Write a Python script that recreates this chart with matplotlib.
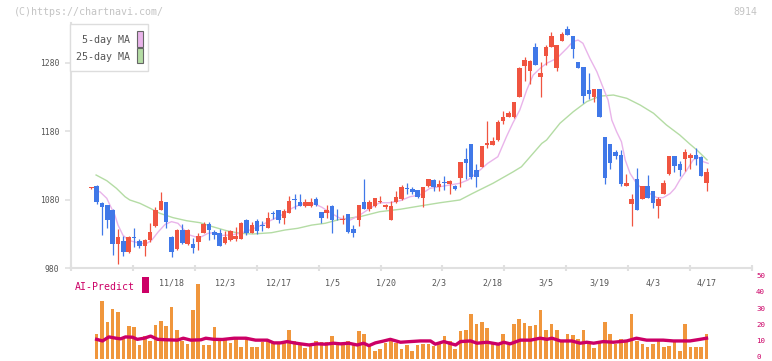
import numpy as np
import matplotlib
matplotlib.use("Agg")
import matplotlib.pyplot as plt
from matplotlib.patches import Rectangle
from matplotlib.transforms import ScaledTranslation

plt.rcParams['font.family'] = ['DejaVu Sans Mono']

# ---------------- data ----------------
date_labels = ["11/18", "12/3", "12/17", "1/5", "1/20", "2/3", "2/18", "3/5", "3/19", "4/3", "4/17"]
date_label_idx = [15, 25, 35, 45, 55, 65, 75, 85, 95, 105, 115]
price_ticks = [980, 1080, 1180, 1280]
vol_ticks = [0, 10, 20, 30, 40, 50]

opens = [1097, 1100, 1075, 1072, 1065, 1015, 1020, 1004, 1026, 1020,
         1012, 1021, 1042, 1065, 1076, 1025, 1008, 1036, 1015, 1015,
         1019, 1032, 1045, 1033, 1031, 1017, 1021, 1022, 1023, 1050,
         1032, 1049, 1043, 1039, 1060, 1065, 1054, 1061, 1081, 1076,
         1071, 1071, 1081, 1062, 1060, 1071, 1058, 1050, 1059, 1038,
         1050, 1077, 1066, 1071, 1077, 1069, 1050, 1076, 1081, 1097,
         1095, 1094, 1083, 1100, 1109, 1099, 1106, 1103, 1100, 1111,
         1139, 1161, 1123, 1128, 1160, 1160, 1167, 1195, 1200, 1200,
         1230, 1275, 1268, 1303, 1259, 1290, 1303, 1272, 1312, 1329,
         1318, 1281, 1274, 1240, 1230, 1241, 1171, 1161, 1150, 1145,
         1100, 1074, 1110, 1081, 1100, 1093, 1071, 1088, 1118, 1144,
         1132, 1140, 1141, 1145, 1142, 1105]
highs = [1098, 1101, 1076, 1073, 1066, 1038, 1027, 1027, 1039, 1022,
         1022, 1046, 1070, 1091, 1077, 1027, 1037, 1044, 1037, 1024,
         1031, 1048, 1048, 1036, 1037, 1034, 1036, 1040, 1047, 1052,
         1047, 1052, 1049, 1062, 1064, 1065, 1066, 1086, 1088, 1088,
         1081, 1083, 1084, 1062, 1072, 1072, 1067, 1057, 1059, 1043,
         1072, 1110, 1080, 1083, 1086, 1074, 1078, 1092, 1101, 1105,
         1099, 1094, 1098, 1110, 1110, 1108, 1115, 1109, 1102, 1135,
         1155, 1161, 1132, 1159, 1195, 1172, 1196, 1209, 1209, 1222,
         1273, 1288, 1284, 1309, 1281, 1306, 1325, 1306, 1324, 1333,
         1318, 1281, 1274, 1265, 1242, 1241, 1171, 1161, 1153, 1152,
         1117, 1089, 1126, 1100, 1116, 1093, 1084, 1109, 1144, 1144,
         1137, 1154, 1148, 1156, 1144, 1126]
lows = [1096, 1074, 1028, 1039, 999, 986, 998, 1003, 1011, 1010,
        998, 1019, 1040, 1065, 1039, 996, 1007, 1015, 1014, 1003,
        1007, 1031, 1021, 1022, 1012, 1015, 1020, 1020, 1022, 1029,
        1031, 1030, 1034, 1039, 1052, 1046, 1044, 1060, 1066, 1071,
        1070, 1070, 1071, 1046, 1054, 1032, 1050, 1045, 1032, 1026,
        1042, 1066, 1064, 1070, 1075, 1067, 1050, 1075, 1080, 1088,
        1088, 1082, 1070, 1099, 1093, 1093, 1094, 1088, 1094, 1099,
        1110, 1110, 1099, 1127, 1155, 1160, 1166, 1190, 1200, 1199,
        1230, 1253, 1248, 1276, 1230, 1276, 1303, 1268, 1312, 1320,
        1287, 1272, 1221, 1227, 1223, 1201, 1103, 1125, 1140, 1100,
        1100, 1042, 1065, 1081, 1083, 1068, 1053, 1088, 1116, 1121,
        1115, 1122, 1125, 1130, 1115, 1093]
closes = [1097, 1076, 1070, 1050, 1015, 1025, 1004, 1026, 1024, 1012,
          1021, 1033, 1065, 1078, 1048, 1004, 1036, 1017, 1036, 1010,
          1027, 1045, 1036, 1028, 1013, 1025, 1034, 1027, 1046, 1031,
          1043, 1034, 1041, 1054, 1059, 1051, 1063, 1078, 1080, 1071,
          1076, 1076, 1072, 1054, 1065, 1050, 1057, 1052, 1033, 1032,
          1072, 1066, 1077, 1083, 1078, 1072, 1071, 1084, 1099, 1096,
          1091, 1084, 1098, 1110, 1099, 1103, 1104, 1107, 1095, 1135,
          1134, 1113, 1113, 1158, 1162, 1166, 1193, 1200, 1206, 1222,
          1272, 1284, 1282, 1276, 1264, 1302, 1319, 1305, 1321, 1320,
          1299, 1272, 1231, 1234, 1241, 1201, 1111, 1134, 1144, 1103,
          1105, 1081, 1065, 1100, 1083, 1075, 1081, 1105, 1144, 1129,
          1123, 1149, 1145, 1140, 1115, 1121]
volume = [np.nan, 15.4, 36, 23, 31, 28.8, 12.7, 20, 19.4, 8.5,
          14.2, 11, 21, 23.5, 20.4, 32.3, 18, 11, 9.2, 30.4,
          46, 8.5, 8.5, 19.4, 11, 11.7, 10, 12.7, 7.5, 13.7,
          7.5, 7.5, 10.6, 11.7, 9.6, 9.6, 9.6, 18, 11, 9,
          6.5, 8.1, 11, 10.2, 10.2, 14.2, 10.2, 9, 11, 9.6,
          17.3, 15.4, 8.1, 4.8, 6, 10, 12, 10, 6, 8.5,
          5, 8.5, 9, 9, 8, 10, 14, 11, 6, 17,
          17.5, 27.5, 21.5, 23, 19, 9.5, 9, 15, 8.5, 21.5,
          24.5, 22, 20, 21, 30, 18, 21.5, 18, 11, 15.5,
          14.5, 12.5, 18, 9, 6.5, 11, 22.5, 15, 9, 12.5,
          11.5, 28, 11, 9, 7.5, 9, 11, 7.5, 8, 10.5,
          4.5, 21.5, 7.5, 7, 7.5, 15]

ma5_x = [0.7, 1.6, 2.9, 3.5, 4.4, 5.0, 5.9, 6.9, 7.8, 9.1,
         10.4, 11.3, 12.5, 13.8, 15.0, 16.2, 17.1, 18.4, 19.4, 20.6,
         21.8, 23.1, 24.5, 26.2, 28.7, 31.2, 33.7, 35.6, 37.5, 39.3,
         41.8, 43.1, 44.9, 46.5, 48.4, 50.2, 52.1, 53.9, 55.8, 57.7,
         59.6, 61.4, 63.3, 65.2, 67.0, 68.9, 70.4, 72.3, 74.1, 76.0,
         77.6, 78.8, 80.1, 81.4, 82.6, 83.9, 85.1, 87.0, 88.9, 90.0,
         91.0, 91.9, 93.2, 94.5, 95.6, 96.6, 97.3, 98.2, 99.1, 99.8,
         100.7, 101.9, 103.2, 104.4, 105.7, 106.9, 108.2, 109.1, 110.0, 111.3,
         112.5, 113.5, 114.4, 115.3]
ma5_y = [1091.7, 1091.7, 1082, 1072, 1057.7, 1043, 1028.5, 1021, 1019, 1016.5,
         1016.5, 1021, 1033, 1044, 1048, 1045.6, 1038, 1028.5, 1026, 1026,
         1031, 1032, 1028, 1028.5, 1033, 1040.6, 1050.4, 1057.7, 1067.5, 1073.7,
         1073.7, 1069, 1060, 1053, 1050.4, 1057.7, 1067.5, 1075.6, 1075.6, 1078.5,
         1084.4, 1086.8, 1096.6, 1099, 1101.4, 1104, 1108.7, 1120.8, 1133, 1142.7,
         1171.8, 1191.8, 1210.8, 1240, 1261.8, 1271.5, 1278.8, 1286, 1300.7, 1310.3,
         1312.8, 1308, 1286, 1266.6, 1244.7, 1225.3, 1196, 1179, 1164.5, 1138,
         1118.5, 1104, 1094, 1089, 1083, 1083, 1089, 1096.6, 1108.7, 1123,
         1138, 1141.8, 1135.4, 1133]

ma25_x = [0.9, 2.9, 4.7, 6.3, 7.2, 9.1, 11.0, 12.8, 15.3, 17.8,
          20.3, 22.7, 25.3, 27.8, 30.2, 33.7, 36.2, 38.6, 41.2, 43.7,
          46.5, 50.2, 53.9, 57.7, 61.4, 65.2, 68.9, 71.3, 75.1, 78.8,
          80.4, 84.2, 85.1, 87.6, 90.1, 92.6, 95.1, 97.6, 100.1, 102.6,
          105.1, 107.5, 110.0, 111.9, 113.2, 115.1]
ma25_y = [1116, 1107.7, 1096.6, 1084.4, 1079.6, 1074.7, 1067.5, 1060.2, 1053.8, 1049.4,
          1046.5, 1040.6, 1034.8, 1031, 1030, 1031.9, 1035.8, 1038.3, 1043, 1045.6,
          1051.4, 1055.2, 1062.5, 1066, 1070.8, 1075.6, 1079.6, 1089.3, 1104, 1120.4,
          1128, 1162, 1167, 1191.4, 1208.3, 1222.9, 1231, 1232.6, 1227.8, 1218,
          1206, 1189, 1174.3, 1161, 1152.4, 1138]

ai_x = [1.0, 2.1, 3.3, 4.6, 5.5, 6.4, 7.7, 8.6, 9.9, 11.1,
        12.4, 14.2, 16.1, 17.2, 18.6, 20.5, 21.4, 22.9, 24.5, 26.7,
        28.9, 30.7, 32.9, 34.1, 35.4, 36.6, 37.9, 39.1, 40.7, 42.2,
        43.8, 45.3, 46.6, 48.1, 49.7, 50.9, 51.9, 53.1, 54.7, 55.9,
        57.8, 59.6, 61.5, 63.4, 64.3, 65.9, 68.1, 69.0, 70.9, 72.1,
        74.0, 76.1, 77.1, 78.3, 80.2, 82.1, 83.9, 85.2, 86.1, 87.7,
        89.8, 91.4, 92.6, 93.9, 95.7, 97.6, 100.1, 101.9, 103.8, 106.9,
        108.8, 111.9, 113.8, 115.0]
ai_y = [12, 11, 13.5, 12.7, 12.3, 13.5, 13.3, 12, 12.7, 14,
        12, 11.7, 11.5, 12.7, 11.5, 11.7, 12.7, 12, 11.9, 12.7,
        12.7, 11.5, 11.5, 9.8, 9.8, 10.6, 9.8, 9.2, 8.5, 9.2,
        9, 9.6, 9.2, 9.6, 8.5, 9.6, 8.1, 9.8, 11, 12,
        10.2, 10.6, 11, 11, 9, 10.6, 8.5, 10.6, 11, 9.6,
        10.2, 9, 10.2, 9.2, 11.5, 11.5, 12.7, 12, 12.7, 11,
        11, 9.6, 10.2, 9.6, 10.6, 10.2, 11, 12.7, 11.5, 11.5,
        11, 11, 12, 12.7]

# ---------------- style ----------------
RED = '#f05440'
BLUE = '#4078e8'
PINK = '#e9b4ea'
GREEN = '#b4dca4'
ORANGE = '#f0963c'
MAG = '#cc0066'
AXC = '#e0e0e0'
TXT = '#555555'

W, H = 772, 361
fig = plt.figure(figsize=(W / 100, H / 100), dpi=100)


def fx(px):
    return px / W


def fy(py):
    return 1 - py / H


XL = (-3.79, 123.5)

# ---------------- price panel ----------------
ax = fig.add_axes([fx(71), fy(268.3), fx(752) - fx(71), fy(23) - fy(268.3)])
ax.set_xlim(*XL)
ax.set_ylim(980, 1337.6)

idx = np.arange(len(closes))
o = np.array(opens, float)
c = np.array(closes, float)
h = np.array(highs, float)
l = np.array(lows, float)
cols = np.where(c >= o, RED, BLUE)

ax.plot(ma25_x, ma25_y, color=GREEN, lw=1.0, zorder=2)
ax.plot(ma5_x, ma5_y, color=PINK, lw=1.0, zorder=2)
ax.vlines(idx, l, h, colors=cols, lw=0.9, zorder=3)
ax.bar(idx, np.maximum(np.abs(c - o), 1.4), bottom=np.minimum(o, c), width=0.85,
       color=cols, linewidth=0, zorder=4)

for s in ['top', 'right']:
    ax.spines[s].set_visible(False)
for s in ['left', 'bottom']:
    ax.spines[s].set_color(AXC)
    ax.spines[s].set_linewidth(1.5)

ax.set_yticks(price_ticks)
ax.tick_params(axis='y', length=4.3, width=1.2, color=AXC, pad=4,
               labelsize=5.8, labelcolor=TXT)
grid_pos = np.linspace(XL[0], XL[1], 12)
ax.set_xticks(grid_pos, labels=[''] * len(grid_pos))
ax.tick_params(axis='x', which='major', direction='inout', length=4.5, width=1.5, color=AXC)
ax.set_xticks(date_label_idx, labels=date_labels, minor=True)
ax.tick_params(axis='x', which='minor', length=0, pad=7.5, labelsize=6, labelcolor=TXT)

# ---------------- volume / AI panel ----------------
axv = fig.add_axes([fx(71), fy(358.7), fx(752) - fx(71), fy(278) - fy(358.7)])
axv.set_facecolor('none')
axv.set_xlim(*XL)
axv.set_ylim(0, 50)
axv.bar(idx, volume, width=0.68, color=ORANGE, linewidth=0, zorder=2)
axv.plot(ai_x, ai_y, color=MAG, lw=2.4, zorder=3, solid_joinstyle='round')
for s in axv.spines.values():
    s.set_visible(False)
axv.set_xticks([])
axv.yaxis.tick_right()
axv.set_yticks(vol_ticks)
axv.tick_params(axis='y', length=0, pad=3, labelsize=5.4, labelcolor=MAG)
for lab in axv.get_yticklabels():
    lab.set_transform(lab.get_transform() + ScaledTranslation(0, 1.6 / 72, fig.dpi_scale_trans))

# ---------------- decorations ----------------
fig.text(fx(14), fy(12), '(C)https://chartnavi.com/', ha='left', va='center',
         fontsize=7.2, color='#c4c4c4')
fig.text(fx(757), fy(12), '8914', ha='right', va='center', fontsize=7.2, color='#c4c4c4')

fig.add_artist(Rectangle((fx(70), fy(71)), fx(148) - fx(70), fy(24) - fy(71),
                         transform=fig.transFigure, facecolor='white',
                         edgecolor='#dddddd', lw=1, zorder=5))
fig.text(fx(130), fy(40), '5-day MA', ha='right', va='center', fontsize=7.2, color=TXT, zorder=6)
fig.text(fx(130), fy(56.5), '25-day MA', ha='right', va='center', fontsize=7.2, color=TXT, zorder=6)
fig.add_artist(Rectangle((fx(136.5), fy(46.5)), fx(142.5) - fx(136.5), fy(31.5) - fy(46.5),
                         transform=fig.transFigure, facecolor=PINK, edgecolor='#666666',
                         lw=0.8, zorder=6))
fig.add_artist(Rectangle((fx(136.5), fy(63)), fx(142.5) - fx(136.5), fy(48.5) - fy(63),
                         transform=fig.transFigure, facecolor=GREEN, edgecolor='#666666',
                         lw=0.8, zorder=6))

fig.text(fx(75), fy(287), 'AI-Predict', ha='left', va='center', fontsize=7.1, color=MAG)
fig.add_artist(Rectangle((fx(142), fy(293)), fx(149) - fx(142), fy(277) - fy(293),
                         transform=fig.transFigure, facecolor=MAG, edgecolor='none', zorder=6))

fig.savefig('out.png', dpi=100)
